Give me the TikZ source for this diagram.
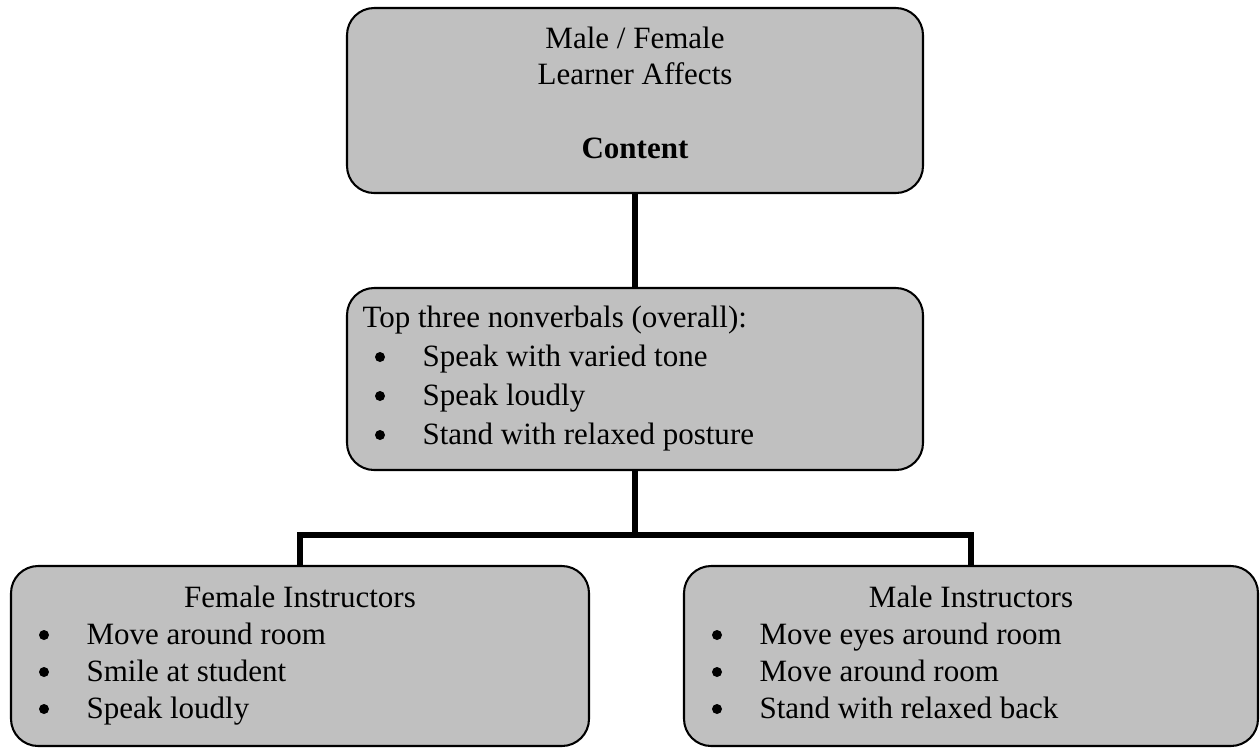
\documentclass[tikz,border=0pt]{standalone}
\usepackage{fontspec}
\setmainfont{Liberation Serif}

\definecolor{boxgray}{RGB}{192,192,192}
\newcommand{\px}{0.387pt}

\tikzset{
  box/.style={draw=black, line width=0.8pt, fill=boxgray, rounded corners=10.5pt, inner sep=0pt},
  link/.style={draw=black, line width=2.3pt},
  ctxt/.style={anchor=base, inner sep=0pt, font=\fontsize{12}{14}\selectfont},
  ltxt/.style={anchor=base west, inner sep=0pt, font=\fontsize{12}{14}\selectfont},
  dot/.style={circle, fill=black, inner sep=0pt, minimum size=10*\px}
}

\begin{document}
\begin{tikzpicture}[x=0.387pt, y=-0.387pt]
    \useasboundingbox (0,0) rectangle (1260,751);

    % boxes
    \node [box, minimum width=576*\px, minimum height=185*\px] (top) at (635,100.5) {};
    \node [box, minimum width=576*\px, minimum height=182*\px] (mid) at (635,379) {};
    \node [box, minimum width=578*\px, minimum height=180*\px] (fem) at (300,656) {};
    \node [box, minimum width=574*\px, minimum height=180*\px] (male) at (971,656) {};

    % connectors
    \coordinate (fork) at (635,535);
    \draw [link] (top.south) -- (mid.north);
    \draw [link] (mid.south) -- (fork);
    \draw [link] (fem.north) |- (fork) -| (male.north);

    % top box
    \node [ctxt] (topa) at (635,48) {Male / Female};
    \node [ctxt] (topb) at (635,84) {Learner Affects};
    \node [ctxt] (topc) at (635,158) {\bfseries Content};

    % middle box
    \node [ltxt] (midhead) at (362,327) {Top three nonverbals (overall):};
    \foreach \txt [count=\i] in {Speak with varied tone, Speak loudly, Stand with relaxed posture} {
        \node [dot] (midb\i) at (380,318+39*\i) {};
        \node [ltxt] (midi\i) at (422,327+39*\i) {\txt};
    }

    % female instructors
    \node [ctxt] (femhead) at (300,607) {Female Instructors};
    \foreach \txt [count=\i] in {Move around room, Smile at student, Speak loudly} {
        \node [dot] (femb\i) at (44,598+37*\i) {};
        \node [ltxt] (femi\i) at (86,607+37*\i) {\txt};
    }

    % male instructors
    \node [ctxt] (malehead) at (971,607) {Male Instructors};
    \foreach \txt [count=\i] in {Move eyes around room, Move around room, Stand with relaxed back} {
        \node [dot] (maleb\i) at (717,598+37*\i) {};
        \node [ltxt] (malei\i) at (759,607+37*\i) {\txt};
    }
\end{tikzpicture}
\end{document}
